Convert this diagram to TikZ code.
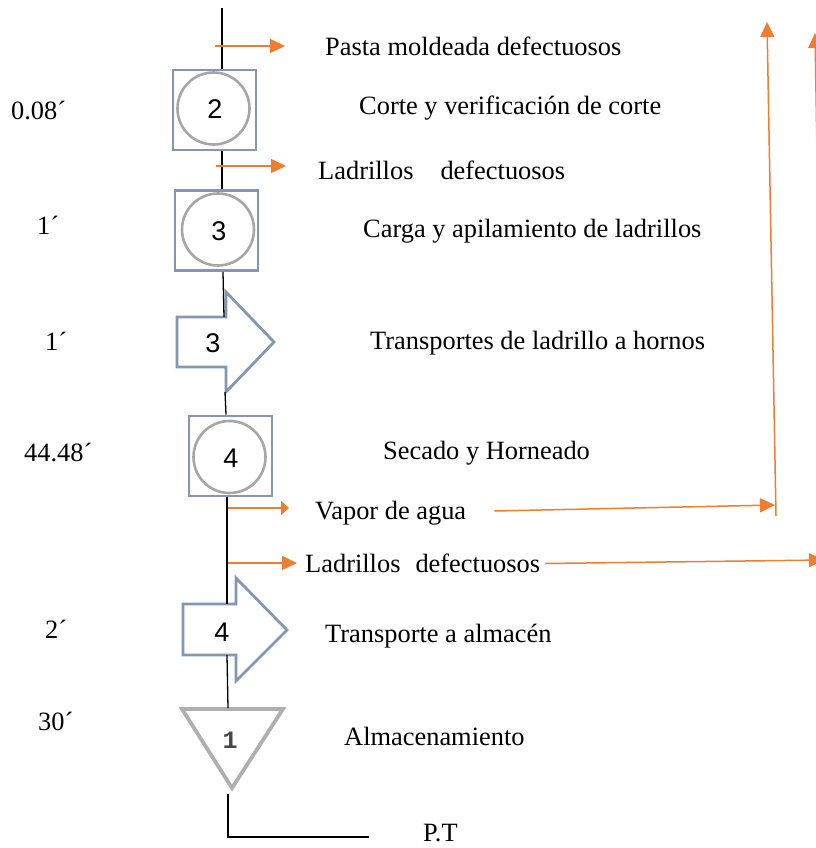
\documentclass[tikz,border=0pt]{standalone}
\usepackage{fontspec}
\setmainfont{Liberation Serif}
\setsansfont{Liberation Sans}
\setmonofont{Liberation Mono}
\usetikzlibrary{arrows.meta}
\definecolor{boxblue}{RGB}{132,151,176}
\definecolor{circgray}{RGB}{166,166,166}
\definecolor{flowor}{RGB}{237,125,49}
\definecolor{trigray}{RGB}{175,175,175}
\begin{document}
\begin{tikzpicture}[x=1pt,y=-1pt,
  opbox/.style={draw=boxblue, line width=2.8pt, minimum width=83pt, minimum height=80pt, inner sep=0pt},
  opcirc/.style={circle, draw=circgray, line width=2.6pt, minimum size=72pt, inner sep=0pt},
  num/.style={font=\sffamily\fontsize{27}{27}\selectfont, inner sep=0pt},
  tshape/.style={draw=boxblue, line width=2.8pt, fill=white},
  lbl/.style={font=\fontsize{26.4}{30}\selectfont, inner sep=0pt, anchor=west, text height=17.5pt, text depth=0pt},
  mainln/.style={black, line width=1.3pt},
  flow/.style={draw=flowor, line width=1.5pt, -{Triangle[length=15pt,width=14pt]}},
  flowln/.style={draw=flowor, line width=1.5pt}
]
\useasboundingbox (0,0) rectangle (815,848);

% ---------- operation 2 ----------
\node[opbox] (b2) at (214.5,110) {};
\node[opcirc] (c2) at (213.5,108.5) {};
\node[num] (n2) at (215,109) {2};

% ---------- operation 3 ----------
\node[opbox] (b3) at (216.5,230.5) {};
\node[opcirc] (c3) at (218,229.5) {};
\node[num] (n3) at (219,231) {3};

% ---------- transport 3 ----------
\draw[tshape] (177,317) -- (226,317) -- (226,292) -- (274,342) -- (226,392) -- (226,367) -- (177,367) -- cycle;
\node[num] (t3) at (213,343) {3};
\coordinate (t3top) at (224,317);
\coordinate (t3bot) at (225,392);

% ---------- operation 4 ----------
\node[opbox] (b4) at (230.5,456) {};
\node[opcirc] (c4) at (229.5,457) {};
\node[num] (n4) at (231,458) {4};

% ---------- transport 4 ----------
\draw[tshape] (183,604) -- (236,604) -- (236,578) -- (287,630) -- (236,681) -- (236,655) -- (183,655) -- cycle;
\node[num] (t4) at (222,632) {4};
\coordinate (t4top) at (227,604);
\coordinate (t4bot) at (227,655);

% ---------- storage ----------
\draw[draw=trigray, line width=3.8pt, line join=miter] (182,709) -- (283,709) -- (232,788) -- cycle;
\node[font=\ttfamily\bfseries\fontsize{25}{25}\selectfont, text=black!72, inner sep=0pt] (s1) at (230,740) {1};
\coordinate (strtop) at (228,708);
\coordinate (strbot) at (228,794);

% ---------- main line ----------
\coordinate (top) at (222,8);
\coordinate (pt1) at (228,837);
\coordinate (pt2) at (369,837);
\draw[mainln] (top) -- (top |- b2.north);
\draw[mainln] (222,0 |- b2.south) -- (222,0 |- b3.north);
\draw[mainln] (223,0 |- b3.south) -- (t3top);
\draw[mainln] (t3bot) -- (226,0 |- b4.north);
\draw[mainln] (227,0 |- b4.south) -- (t4top);
\draw[mainln] (t4bot) -- (strtop);
\draw[mainln] (strbot) -- (pt1) -- (pt2);

% ---------- labels ----------
\node[lbl] (l1) at (325,47) {Pasta moldeada defectuosos};
\node[lbl] (l2) at (359,106) {Corte y verificación de corte};
\node[lbl] (l3) at (318,171) {Ladrillos\hspace{27pt}defectuosos};
\node[lbl] (l4) at (363,229) {Carga y apilamiento de ladrillos};
\node[lbl] (l5) at (370,341) {Transportes de ladrillo a hornos};
\node[lbl] (l6) at (383,451) {Secado y Horneado};
\node[lbl] (l7) at (315,511) {Vapor de agua};
\node[lbl] (l8) at (305,563.5) {Ladrillos\hspace{15pt}defectuosos};
\node[lbl] (l9) at (325,634) {Transporte a almacén};
\node[lbl] (l10) at (344,737) {Almacenamiento};
\node[lbl] (l11) at (423,833) {P.T};

% ---------- times ----------
\node[lbl] (tm1) at (11,111) {0.08´};
\node[lbl] (tm2) at (37,226) {1´};
\node[lbl] (tm3) at (45,342) {1´};
\node[lbl] (tm4) at (24,453) {44.48´};
\node[lbl] (tm5) at (45,630) {2´};
\node[lbl] (tm6) at (38,722) {30´};

% ---------- orange flows ----------
\coordinate (o1s) at (215,46);  \coordinate (o1e) at (285,46);
\coordinate (o2s) at (216,166); \coordinate (o2e) at (286,166);
\coordinate (o3s) at (228,508); \coordinate (o3e) at (289,508);
\coordinate (o4s) at (228,563); \coordinate (o4e) at (297,563);
\draw[flow] (o1s) -- (o1e);
\draw[flow] (o2s) -- (o2e);
\draw[flowor, line width=1.5pt, -{Triangle[length=8pt,width=14pt]}] (o3s) -- (o3e);
\draw[flow] (o4s) -- (o4e);

\coordinate (v1) at (775,505);
\coordinate (v2) at (776,516);
\coordinate (v3) at (767,22);
\draw[flow] ([xshift=28pt]l7.east) -- (v1);
\draw[flow] (v2) -- (v3);

\coordinate (w1) at (824,560);
\coordinate (w2) at (824,570);
\coordinate (w3) at (815,33);
\draw[flow] ([xshift=5pt]l8.east) -- (w1);
\draw[flow] (w2) -- (w3);
\end{tikzpicture}
\end{document}
